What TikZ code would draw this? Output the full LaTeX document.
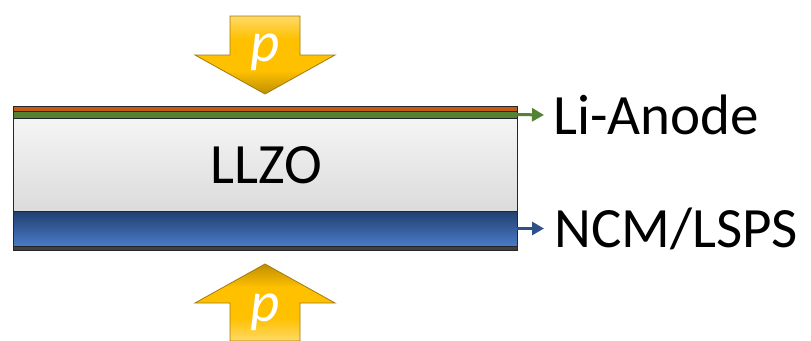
\documentclass[tikz,border=0pt]{standalone}
\usepackage{fontspec}
\setmainfont{Carlito}
\usetikzlibrary{arrows.meta}
\definecolor{goldL}{HTML}{FFD966}
\definecolor{goldM}{HTML}{FFC000}
\definecolor{goldD}{HTML}{BF8F00}
\definecolor{goldEdge}{HTML}{A07A10}
\definecolor{anodeC}{HTML}{C55A11}
\definecolor{greenC}{HTML}{548235}
\definecolor{blueTop}{HTML}{203F6E}
\definecolor{blueBot}{HTML}{4A7BC8}
\definecolor{stripC}{HTML}{404040}
\pgfdeclareverticalshading{goldDown}{100bp}{color(0bp)=(goldD); color(25bp)=(goldD); color(40bp)=(goldM); color(60bp)=(goldM); color(75bp)=(goldL); color(100bp)=(goldL)}
\pgfdeclareverticalshading{goldUp}{100bp}{color(0bp)=(goldL); color(25bp)=(goldL); color(40bp)=(goldM); color(60bp)=(goldM); color(75bp)=(goldD); color(100bp)=(goldD)}
\tikzset{
  layer/.style={draw=black!85, line width=0.9pt, inner sep=0pt, outer sep=0pt, minimum width=504pt},
  bigtext/.style={font=\fontsize{57}{60}\selectfont, inner sep=0pt, text=black},
  ptext/.style={font=\fontsize{57}{60}\selectfont\itshape, inner sep=0pt, text=white},
  lead/.style={line width=3pt, -{Triangle[length=12pt,width=13pt]}},
  press/.style={draw=goldEdge, line width=0.8pt}
}
\begin{document}
\begin{tikzpicture}[x=1pt,y=-1pt]
\useasboundingbox (0,0) rectangle (811,340);
% layers
\node[layer, fill=anodeC, minimum height=5pt] (anode) at (265,108.5) {};
\node[layer, fill=greenC, minimum height=7pt] (green) at (265,114.5) {};
\node[layer, top color=white!96!black, bottom color=black!14, minimum height=93pt] (llzo) at (265,164.5) {};
\node[layer, top color=blueTop, bottom color=blueBot, minimum height=35pt] (ncm) at (265,228.5) {};
\node[layer, fill=stripC, minimum height=4pt] (strip) at (265,248) {};
\node[bigtext, anchor=base] (llzolabel) at (266.5,183) {LLZO};
% pressure arrows
\shadedraw[press, shading=goldDown]
  (230,16) -- (300,16) -- (300,55) -- (335,55) -- (265,94) -- (195,55) -- (230,55) -- cycle;
\node[ptext] (ptop) at (265,52) {p};
\shadedraw[press, shading=goldUp]
  (265,264) -- (335,303) -- (300,303) -- (300,341) -- (230,341) -- (230,303) -- (195,303) -- cycle;
\node[ptext] (pbot) at (265,312) {p};
% labels
\node[bigtext, anchor=base west] (lianode) at (553,134) {Li-Anode};
\node[bigtext, anchor=base west] (ncmlabel) at (554,247) {NCM/LSPS};
\coordinate (gtip) at (544,115);
\coordinate (btip) at (544,228.5);
\draw[lead, draw=greenC, fill=greenC] (green.east) -- (gtip);
\draw[lead, draw=blueTop!70!blueBot, fill=blueTop!70!blueBot] (ncm.east) -- (btip);
\end{tikzpicture}
\end{document}
